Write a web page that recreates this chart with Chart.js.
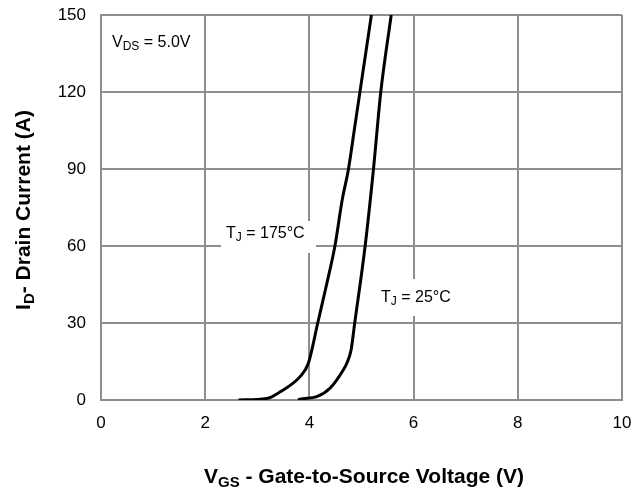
<!DOCTYPE html>
<html>
<head>
<meta charset="utf-8">
<script src="https://cdn.jsdelivr.net/npm/chart.js@4"></script>
<style>
  html, body { margin: 0; padding: 0; background: #fff; }
  #wrap { width: 633px; height: 489px; }
</style>
</head>
<body>
<div id="wrap"><canvas id="grafico"></canvas></div>
<script>
// transfer characteristics
const vgsHot = [2.64, 3.18, 3.44, 3.82, 3.98, 4.16, 4.33, 4.49, 4.63, 4.75, 4.86, 4.97, 5.19];
const idHot  = [0, 0.6, 3.2, 9.1, 14.3, 30, 45, 60, 78, 90, 105, 120, 150];
const vgsCold = [3.78, 3.82, 4.14, 4.40, 4.65, 4.72, 4.80, 4.87, 5.07, 5.23, 5.37, 5.57];
const idCold  = [0, 0.3, 1.3, 4.7, 11.7, 14.4, 19.5, 30, 60, 90, 120, 150];
const xTicks = [0, 2, 4, 6, 8, 10];
const yTicks = [0, 30, 60, 90, 120, 150];

const FONT = '"Liberation Sans", Arial, sans-serif';
const GRID = '#8e8e8e';

const toPoints = (xs, ys) => xs.map((x, i) => ({ x: x, y: ys[i] }));

// text with a subscript part: [main, sub, rest]
function subText(ctx, x, y, parts, size, bold, align) {
    const w = bold ? 'bold ' : '';
    const subSize = Math.round(size * 0.72);
    ctx.font = w + size + 'px ' + FONT;
    const w1 = ctx.measureText(parts[0]).width;
    const w3 = ctx.measureText(parts[2]).width;
    ctx.font = w + subSize + 'px ' + FONT;
    const w2 = ctx.measureText(parts[1]).width;
    const total = w1 + w2 + w3;
    let sx = align === 'center' ? x - total / 2 : x;
    ctx.textAlign = 'left';
    ctx.textBaseline = 'alphabetic';
    ctx.fillStyle = '#000';
    ctx.font = w + size + 'px ' + FONT;
    ctx.fillText(parts[0], sx, y);
    ctx.font = w + subSize + 'px ' + FONT;
    ctx.fillText(parts[1], sx + w1, y + size * 0.2);
    ctx.font = w + size + 'px ' + FONT;
    ctx.fillText(parts[2], sx + w1 + w2, y);
    return total;
}

const labelsPlugin = {
    id: 'labelsPlugin',
    beforeDatasetsDraw(chart) {
        const ctx = chart.ctx;
        ctx.save();
        ctx.fillStyle = '#fff';
        ctx.fillRect(221, 221, 95, 32);
        ctx.fillRect(373, 279, 88, 37);
        ctx.restore();
    },
    afterDraw(chart) {
        const ctx = chart.ctx;
        ctx.save();
        subText(ctx, 112, 47, ['V', 'DS', ' = 5.0V'], 16, false, 'left');
        subText(ctx, 226, 238, ['T', 'J', ' = 175°C'], 16, false, 'left');
        subText(ctx, 381, 302, ['T', 'J', ' = 25°C'], 16, false, 'left');
        subText(ctx, 364, 483, ['V', 'GS', ' - Gate-to-Source Voltage (V)'], 21, true, 'center');
        ctx.translate(30, 210);
        ctx.rotate(-Math.PI / 2);
        subText(ctx, 0, 0, ['I', 'D', '- Drain Current (A)'], 21, true, 'center');
        ctx.restore();
    }
};

const lineStyle = {
    borderColor: '#000',
    borderWidth: 3,
    pointRadius: 0,
    showLine: true,
    fill: false,
    cubicInterpolationMode: 'monotone'
};

new Chart(document.getElementById('grafico'), {
    type: 'scatter',
    data: {
        datasets: [
            Object.assign({ label: 'TJ = 175°C', data: toPoints(vgsHot, idHot) }, lineStyle),
            Object.assign({ label: 'TJ = 25°C', data: toPoints(vgsCold, idCold) }, lineStyle)
        ]
    },
    options: {
        responsive: true,
        maintainAspectRatio: false,
        animation: false,
        layout: { padding: { left: 0, top: 15, right: 11, bottom: 0 } },
        plugins: { legend: { display: false }, tooltip: { enabled: false } },
        scales: {
            x: {
                type: 'linear',
                min: 0, max: 10,
                afterBuildTicks: (s) => { s.ticks = xTicks.map(v => ({ value: v })); },
                afterFit: (s) => { s.height = 89; s.paddingLeft = 0; s.paddingRight = 0; },
                grid: { color: GRID, lineWidth: 2, drawTicks: false },
                border: { color: GRID, width: 2 },
                ticks: { color: '#000', padding: 13, maxRotation: 0, font: { family: FONT, size: 17 } }
            },
            y: {
                type: 'linear',
                min: 0, max: 150,
                afterBuildTicks: (s) => { s.ticks = yTicks.map(v => ({ value: v })); },
                afterFit: (s) => { s.width = 101; s.paddingTop = 0; s.paddingBottom = 0; },
                grid: { color: GRID, lineWidth: 2, drawTicks: false },
                border: { color: GRID, width: 2 },
                ticks: { color: '#000', padding: 15, font: { family: FONT, size: 17 } }
            }
        }
    },
    plugins: [labelsPlugin]
});
</script>
</body>
</html>
